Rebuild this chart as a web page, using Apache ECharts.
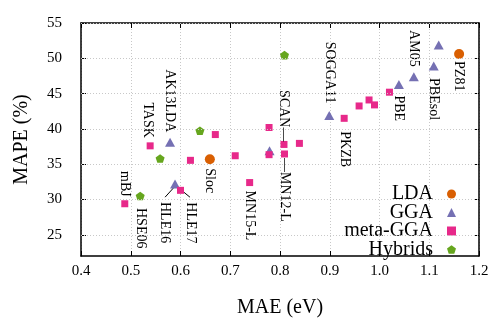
<!DOCTYPE html>
<html>
<head>
<meta charset="utf-8">
<script src="https://cdn.jsdelivr.net/npm/echarts@6/dist/echarts.min.js"></script>
<style>html,body{margin:0;padding:0;background:#fff}#c{width:492px;height:323px}</style>
</head>
<body>
<div id="c"></div>
<script>
// ---- data (MAE in eV, MAPE in %) ----
const xTicks = ['0.4','0.5','0.6','0.7','0.8','0.9','1.0','1.1','1.2'];
const yTicks = ['25','30','35','40','45','50','55'];

const ldaNames = ['PZ81', 'Sloc'];
const ldaMAE   = [1.160, 0.659];
const ldaMAPE  = [50.6, 35.7];

const ggaNames = ['', 'PBEsol', 'AM05', 'PBE', 'SOGGA11', 'AK13LDA', 'HLE16', ''];
const ggaMAE   = [1.119, 1.109, 1.069, 1.039, 0.899, 0.579, 0.589, 0.779];
const ggaMAPE  = [51.9, 48.9, 47.4, 46.3, 41.9, 38.1, 32.2, 36.9];

const metaNames = ['', '', '', '', 'PKZB', '', '', 'TASK', 'SCAN', '', 'MN12-L', '', '', '', 'MN15-L', 'HLE17', 'mBJ'];
const metaMAE   = [1.020, 0.979, 0.990, 0.959, 0.929, 0.778, 0.670, 0.539, 0.808, 0.839, 0.809, 0.778, 0.710, 0.620, 0.739, 0.600, 0.488];
const metaMAPE  = [45.2, 44.1, 43.4, 43.25, 41.5, 40.2, 39.2, 37.6, 37.8, 37.95, 36.45, 36.35, 36.2, 35.55, 32.4, 31.3, 29.4];

const hybNames = ['', '', '', 'HSE06'];
const hybMAE   = [0.809, 0.639, 0.559, 0.519];
const hybMAPE  = [50.45, 39.75, 35.8, 30.5];

// leader lines for HLE16 / HLE17 (data coordinates)
const hle16LineX = [0.586, 0.569];
const hle16LineY = [31.65, 30.33];
const hle17LineX = [0.607, 0.619];
const hle17LineY = [31.02, 30.33];

// ---- label placement (style): direction, gap along text, lateral shift (px) ----
const labelPlace = {
  'PZ81': ['down', 7, 0], 'Sloc': ['down', 9, 0],
  'PBEsol': ['down', 12, 0], 'AM05': ['up', 10, 0], 'PBE': ['down', 11, 0],
  'SOGGA11': ['up', 12, 0], 'AK13LDA': ['up', 10, 0], 'HLE16': ['down', 18, -10],
  'PKZB': ['down', 13, 0], 'TASK': ['up', 8, -2], 'SCAN': ['up', 3, 0],
  'MN12-L': ['down', 4, 0], 'MN15-L': ['down', 8, 0], 'HLE17': ['down', 12, 10],
  'mBJ': ['up', 7, 0], 'HSE06': ['down', 12, 0]
};
const labelText = { 'SCAN': 'SCAN\u2014', 'MN12-L': '\u2014MN12-L' };

const FONT = 'Liberation Serif';

function buildData(names, xs, ys) {
  return xs.map((x, i) => {
    const item = { value: [x, ys[i]], name: names[i] };
    const n = names[i];
    if (n && labelPlace[n]) {
      const [dir, g, s] = labelPlace[n];
      // rotate -90 (clockwise): local [ox, oy] -> screen (-oy, ox)
      const dy = dir === 'down' ? g : -g;
      item.label = {
        show: true,
        formatter: labelText[n] || n,
        rotate: -90,
        position: 'inside',
        align: dir === 'down' ? 'left' : 'right',
        verticalAlign: 'middle',
        offset: [dy, -s],
        fontFamily: FONT, fontSize: 14, color: '#000'
      };
    }
    return item;
  });
}

const pentagon = 'path://M50,0 L97.55,34.55 L79.39,90.45 L20.61,90.45 L2.45,34.55 Z';
const yTickVals = yTicks.map(Number);
const gridLineStyle = { color: '#c8c8c8', width: 1, type: [1, 2] };

const chart = echarts.init(document.getElementById('c'), null, { renderer: 'canvas' });

const axisLineStyle = { show: true, onZero: false, lineStyle: { color: '#000', width: 1.5 } };
const tickStyle = { show: true, inside: true, length: 5, lineStyle: { color: '#000', width: 1 } };

chart.setOption({
  animation: false,
  backgroundColor: '#fff',
  grid: { left: 81, right: 13, top: 23, bottom: 61, containLabel: false },
  legend: {
    data: ['LDA', 'GGA', 'meta-GGA', 'Hybrids'],
    orient: 'vertical',
    align: 'right',
    right: 36, top: 184,
    padding: 0,
    itemGap: -1.5,
    itemWidth: 9, itemHeight: 9,
    textStyle: { fontFamily: FONT, fontSize: 20, color: '#000', lineHeight: 18, padding: [0, 9, 0, 0] }
  },
  xAxis: [
    {
      type: 'value', min: 0.4, max: 1.2, interval: 0.1, position: 'bottom',
      axisLine: axisLineStyle, axisTick: tickStyle,
      name: 'MAE (eV)', nameLocation: 'middle', nameGap: 42,
      nameTextStyle: { fontFamily: FONT, fontSize: 20, color: '#000' },
      axisLabel: { margin: 8, fontFamily: FONT, fontSize: 15, color: '#000',
        formatter: v => { const t = v.toFixed(1); return xTicks.indexOf(t) >= 0 ? t : ''; } },
      splitLine: { show: true, lineStyle: gridLineStyle }
    },
    {
      type: 'value', min: 0.4, max: 1.2, interval: 0.1, position: 'top',
      axisLine: axisLineStyle, axisTick: tickStyle,
      axisLabel: { show: false }, splitLine: { show: false }
    }
  ],
  yAxis: [
    {
      type: 'value', min: 22, max: 55, position: 'left',
      axisLine: axisLineStyle,
      axisTick: Object.assign({ customValues: yTickVals }, tickStyle),
      name: 'MAPE (%)', nameLocation: 'middle', nameGap: 49,
      nameTextStyle: { fontFamily: FONT, fontSize: 20, color: '#000' },
      axisLabel: { customValues: yTickVals, margin: 19, fontFamily: FONT, fontSize: 15, color: '#000',
        formatter: v => String(Math.round(v)) },
      splitLine: { show: false }
    },
    {
      type: 'value', min: 22, max: 55, position: 'right',
      axisLine: axisLineStyle,
      axisTick: Object.assign({ customValues: yTickVals }, tickStyle),
      axisLabel: { show: false }, splitLine: { show: false }
    }
  ],
  series: [
    { type: 'line', data: hle16LineX.map((x, i) => [x, hle16LineY[i]]), symbol: 'none',
      lineStyle: { color: '#000', width: 1 }, silent: true, z: 1,
      markLine: { silent: true, symbol: 'none', label: { show: false }, lineStyle: gridLineStyle,
        animation: false, data: yTickVals.map(v => ({ yAxis: v })) } },
    { type: 'line', data: hle17LineX.map((x, i) => [x, hle17LineY[i]]), symbol: 'none',
      lineStyle: { color: '#000', width: 1 }, silent: true, z: 1 },
    { name: 'LDA', type: 'scatter', symbol: 'circle', symbolSize: 10,
      itemStyle: { color: '#d95f02', opacity: 1 }, data: buildData(ldaNames, ldaMAE, ldaMAPE), z: 3 },
    { name: 'GGA', type: 'scatter', symbol: 'triangle', symbolSize: [10, 9],
      itemStyle: { color: '#7570b3', opacity: 1 }, data: buildData(ggaNames, ggaMAE, ggaMAPE), z: 3 },
    { name: 'meta-GGA', type: 'scatter', symbol: 'rect', symbolSize: 7,
      itemStyle: { color: '#e7298a', opacity: 1 }, data: buildData(metaNames, metaMAE, metaMAPE), z: 4 },
    { name: 'Hybrids', type: 'scatter', symbol: pentagon, symbolSize: 9, symbolKeepAspect: true,
      itemStyle: { color: '#66a61e', opacity: 1 }, data: buildData(hybNames, hybMAE, hybMAPE), z: 4 }
  ]
});
</script>
</body>
</html>
